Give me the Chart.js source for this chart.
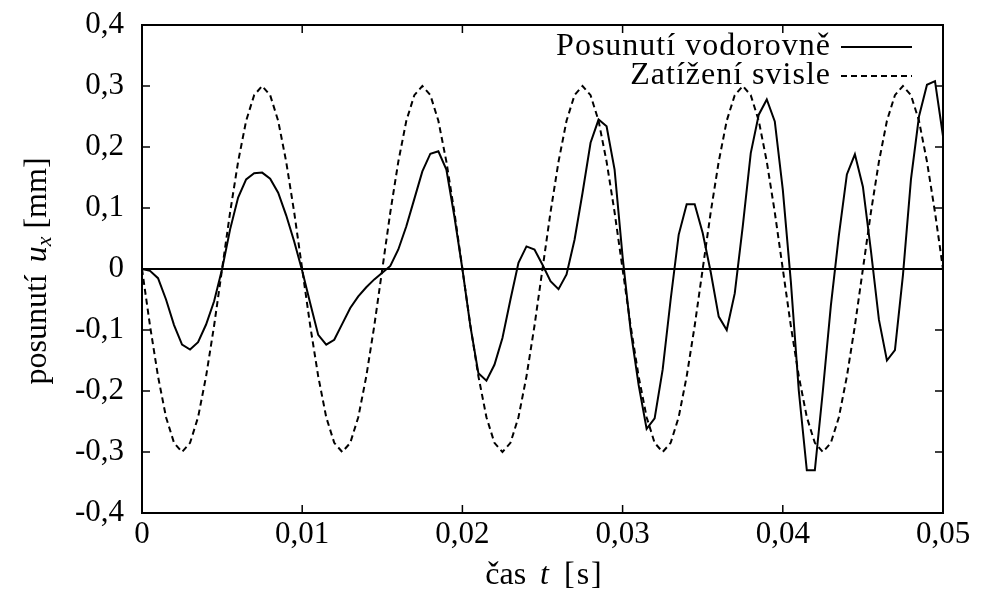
<!doctype html>
<html lang="cs">
<head>
  <meta charset="utf-8">
  <title>Posunutí vodorovně a zatížení svisle</title>
  <style>
    * {
      margin: 0;
      padding: 0;
    }
    body {
      background: white;
    }
    .chartBox {
      width: 981px;
      height: 598px;
      position: relative;
    }
  </style>
</head>
<body>
  <div class="chartBox">
    <canvas id="myChart"></canvas>
  </div>

  <script src="https://cdn.jsdelivr.net/npm/chart.js"></script>
  <script>
    // čas [s]
    const casy = [
      0, 0.0005, 0.001, 0.0015, 0.002, 0.0025, 0.003, 0.0035, 0.004, 0.0045,
      0.005, 0.0055, 0.006, 0.0065, 0.007, 0.0075, 0.008, 0.0085, 0.009, 0.0095,
      0.01, 0.0105, 0.011, 0.0115, 0.012, 0.0125, 0.013, 0.0135, 0.014, 0.0145,
      0.015, 0.0155, 0.016, 0.0165, 0.017, 0.0175, 0.018, 0.0185, 0.019, 0.0195,
      0.02, 0.0205, 0.021, 0.0215, 0.022, 0.0225, 0.023, 0.0235, 0.024, 0.0245,
      0.025, 0.0255, 0.026, 0.0265, 0.027, 0.0275, 0.028, 0.0285, 0.029, 0.0295,
      0.03, 0.0305, 0.031, 0.0315, 0.032, 0.0325, 0.033, 0.0335, 0.034, 0.0345,
      0.035, 0.0355, 0.036, 0.0365, 0.037, 0.0375, 0.038, 0.0385, 0.039, 0.0395,
      0.04, 0.0405, 0.041, 0.0415, 0.042, 0.0425, 0.043, 0.0435, 0.044, 0.0445,
      0.045, 0.0455, 0.046, 0.0465, 0.047, 0.0475, 0.048, 0.0485, 0.049, 0.0495,
      0.05
    ];

    // posunutí u_x [mm]
    const posunuti = [
      0, -0.003, -0.015, -0.050, -0.092, -0.124, -0.132, -0.120, -0.091, -0.053,
      0.000, 0.065, 0.117, 0.147, 0.157, 0.158, 0.148, 0.125, 0.088, 0.045,
      -0.003, -0.056, -0.108, -0.124, -0.116, -0.090, -0.064, -0.045, -0.030, -0.017,
      -0.006, 0.005, 0.032, 0.070, 0.115, 0.160, 0.189, 0.193, 0.163, 0.086,
      0.000, -0.094, -0.171, -0.183, -0.157, -0.113, -0.050, 0.010, 0.037, 0.032,
      0.007, -0.020, -0.033, -0.009, 0.048, 0.125, 0.207, 0.245, 0.234, 0.163,
      0.020, -0.100, -0.190, -0.262, -0.245, -0.165, -0.050, 0.056, 0.106, 0.106,
      0.059, -0.005, -0.078, -0.100, -0.040, 0.070, 0.190, 0.253, 0.278, 0.242,
      0.130, -0.020, -0.200, -0.330, -0.330, -0.200, -0.060, 0.055, 0.155, 0.188,
      0.135, 0.030, -0.083, -0.150, -0.133, -0.010, 0.147, 0.250, 0.302, 0.308,
      0.218
    ];

    // zatížení svisle (stejné měřítko)
    const zatizeni = [
      0, -0.093, -0.176, -0.243, -0.285, -0.300, -0.285, -0.243, -0.176, -0.093,
      0, 0.093, 0.176, 0.243, 0.285, 0.300, 0.285, 0.243, 0.176, 0.093,
      0, -0.093, -0.176, -0.243, -0.285, -0.300, -0.285, -0.243, -0.176, -0.093,
      0, 0.093, 0.176, 0.243, 0.285, 0.300, 0.285, 0.243, 0.176, 0.093,
      0, -0.093, -0.176, -0.243, -0.285, -0.300, -0.285, -0.243, -0.176, -0.093,
      0, 0.093, 0.176, 0.243, 0.285, 0.300, 0.285, 0.243, 0.176, 0.093,
      0, -0.093, -0.176, -0.243, -0.285, -0.300, -0.285, -0.243, -0.176, -0.093,
      0, 0.093, 0.176, 0.243, 0.285, 0.300, 0.285, 0.243, 0.176, 0.093,
      0, -0.093, -0.176, -0.243, -0.285, -0.300, -0.285, -0.243, -0.176, -0.093,
      0, 0.093, 0.176, 0.243, 0.285, 0.300, 0.285, 0.243, 0.176, 0.093,
      0
    ];

    // popisky os
    const xTicks = [0, 0.01, 0.02, 0.03, 0.04, 0.05];
    const yTicks = [-0.4, -0.3, -0.2, -0.1, 0, 0.1, 0.2, 0.3, 0.4];

    const FONT = '"Liberation Serif", "Times New Roman", serif';
    const VELIKOST = 31;

    const carka = (v, des) => v === 0 ? '0' : v.toFixed(des).replace('.', ',');

    // rámeček, nulová osa a dovnitř mířící značky
    const ramecek = {
      id: 'ramecek',
      beforeDatasetsDraw(chart) {
        const { ctx, chartArea: a, scales: { x, y } } = chart;
        const cara = (x1, y1, x2, y2) => {
          ctx.beginPath();
          ctx.moveTo(x1, y1);
          ctx.lineTo(x2, y2);
          ctx.stroke();
        };
        ctx.save();
        ctx.strokeStyle = '#000';
        ctx.lineWidth = 2;
        ctx.strokeRect(a.left, a.top, a.right - a.left, a.bottom - a.top);
        const y0 = y.getPixelForValue(0);
        cara(a.left, y0, a.right, y0);
        ctx.lineWidth = 1.5;
        x.ticks.forEach(t => {
          const px = x.getPixelForValue(t.value);
          cara(px, a.bottom, px, a.bottom - 8);
          cara(px, a.top, px, a.top + 8);
        });
        y.ticks.forEach(t => {
          const py = y.getPixelForValue(t.value);
          cara(a.left, py, a.left + 8, py);
          cara(a.right, py, a.right - 8, py);
        });
        ctx.restore();
      }
    };

    // text složený z částí (kurzíva, dolní index, mezery v px)
    function kresliCasti(ctx, casti, cx, cy) {
      let sirka = 0;
      casti.forEach(c => {
        ctx.font = `${c.styl || ''} ${c.vel || 32}px ${FONT}`;
        c.w = (c.t ? ctx.measureText(c.t).width : 0) + (c.mezera || 0);
        sirka += c.w;
      });
      let px = cx - sirka / 2;
      casti.forEach(c => {
        ctx.font = `${c.styl || ''} ${c.vel || 32}px ${FONT}`;
        if (c.t) ctx.fillText(c.t, px, cy + (c.dy || 0));
        px += c.w;
      });
    }

    const popisky = {
      id: 'popisky',
      afterDraw(chart) {
        const { ctx, chartArea: a } = chart;
        ctx.save();
        ctx.fillStyle = '#000';
        ctx.textAlign = 'left';
        ctx.textBaseline = 'alphabetic';

        // osa x
        kresliCasti(ctx, [
          { t: 'čas' },
          { mezera: 14 },
          { t: 't', styl: 'italic' },
          { mezera: 15 },
          { t: '[', mezera: 2 },
          { t: 's', mezera: 2 },
          { t: ']' }
        ], (a.left + a.right) / 2 + 1, 584);

        // osa y
        ctx.save();
        ctx.translate(46, (a.top + a.bottom) / 2 + 2);
        ctx.rotate(-Math.PI / 2);
        kresliCasti(ctx, [
          { t: 'posunutí' },
          { mezera: 12 },
          { t: 'u', styl: 'italic' },
          { t: 'x', styl: 'italic', vel: 22, dy: 5 },
          { mezera: 8 },
          { t: '[mm]' }
        ], 0, 0);
        ctx.restore();

        // legenda
        ctx.letterSpacing = '1px';
        chart.data.datasets.forEach((ds, i) => {
          const ly = a.top + 22 + i * 29;
          ctx.font = `32px ${FONT}`;
          ctx.textAlign = 'right';
          ctx.textBaseline = 'middle';
          ctx.fillText(ds.label, a.right - 112, ly);
          ctx.strokeStyle = '#000';
          ctx.lineWidth = ds.borderWidth;
          ctx.setLineDash(ds.borderDash || []);
          ctx.beginPath();
          ctx.moveTo(a.right - 102, ly);
          ctx.lineTo(a.right - 31, ly);
          ctx.stroke();
        });
        ctx.restore();
      }
    };

    const data = {
      datasets: [
        {
          label: 'Posunutí vodorovně',
          data: casy.map((t, i) => ({ x: t, y: posunuti[i] })),
          borderColor: '#000',
          borderWidth: 2,
          pointRadius: 0,
          tension: 0,
          fill: false
        },
        {
          label: 'Zatížení svisle',
          data: casy.map((t, i) => ({ x: t, y: zatizeni[i] })),
          borderColor: '#000',
          borderWidth: 2,
          borderDash: [6, 4],
          pointRadius: 0,
          tension: 0,
          fill: false
        }
      ]
    };

    const config = {
      type: 'line',
      data,
      options: {
        responsive: true,
        maintainAspectRatio: false,
        animation: false,
        layout: {
          autoPadding: false,
          padding: { top: 25, right: 38, bottom: 0, left: 0 }
        },
        scales: {
          x: {
            type: 'linear',
            min: 0,
            max: 0.05,
            afterBuildTicks: s => { s.ticks = xTicks.map(v => ({ value: v })); },
            afterFit: s => {
              s.height = 85;
              s.paddingLeft = 0;
              s.paddingRight = 0;
            },
            grid: { display: false, drawTicks: false },
            border: { display: false },
            ticks: {
              padding: 3,
              color: '#000',
              maxRotation: 0,
              autoSkip: false,
              font: { family: FONT, size: VELIKOST },
              callback: v => carka(v, 2)
            }
          },
          y: {
            min: -0.4,
            max: 0.4,
            afterBuildTicks: s => { s.ticks = yTicks.map(v => ({ value: v })); },
            afterFit: s => {
              s.width = 142;
              s.paddingTop = 0;
              s.paddingBottom = 0;
            },
            grid: { display: false, drawTicks: false },
            border: { display: false },
            ticks: {
              padding: 18,
              color: '#000',
              autoSkip: false,
              font: { family: FONT, size: VELIKOST },
              callback: v => carka(v, 1)
            }
          }
        },
        plugins: {
          legend: { display: false },
          tooltip: { enabled: false }
        }
      },
      plugins: [ramecek, popisky]
    };

    const myChart = new Chart(document.getElementById('myChart'), config);
  </script>
</body>
</html>
